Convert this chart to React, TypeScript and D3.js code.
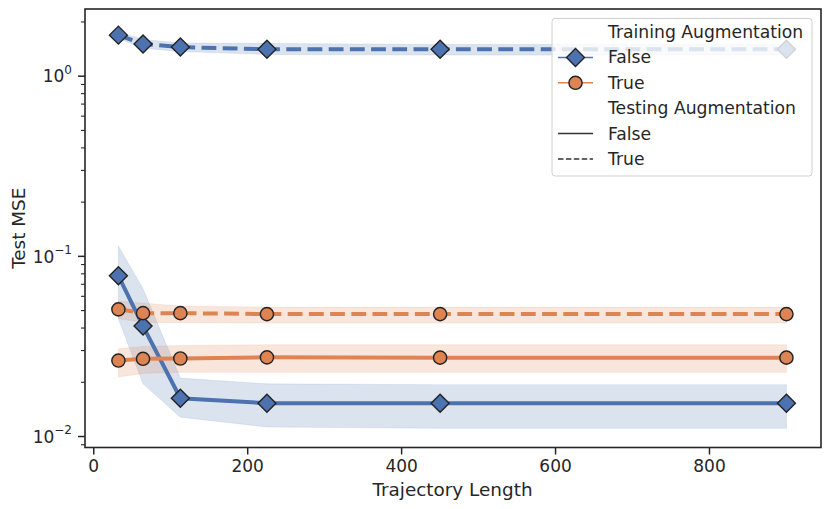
import React, { useEffect, useRef } from 'react';
import * as d3 from 'd3';

// trajectory lengths on the x axis
const trajLengths = [32, 64, 112.5, 225, 450, 900];

// training aug = False, testing aug = False
const ffMean = [0.078, 0.041, 0.0163, 0.0153, 0.0153, 0.0153];
const ffLo = [0.045, 0.0196, 0.0128, 0.0113, 0.0111, 0.0111];
const ffHi = [0.114, 0.066, 0.0211, 0.0196, 0.0194, 0.0194];

// training aug = False, testing aug = True
const ftMean = [1.69, 1.51, 1.45, 1.41, 1.41, 1.41];
const ftLo = [1.62, 1.43, 1.37, 1.32, 1.31, 1.31];
const ftHi = [1.76, 1.6, 1.53, 1.52, 1.5, 1.5];

// training aug = True, testing aug = False
const tfMean = [0.0264, 0.027, 0.0271, 0.0275, 0.0274, 0.0274];
const tfLo = [0.0214, 0.0224, 0.0227, 0.0227, 0.0227, 0.0227];
const tfHi = [0.0307, 0.0316, 0.032, 0.0323, 0.0323, 0.0323];

// training aug = True, testing aug = True
const ttMean = [0.0508, 0.0484, 0.0484, 0.0478, 0.0478, 0.0478];
const ttLo = [0.045, 0.043, 0.0428, 0.0426, 0.0426, 0.0426];
const ttHi = [0.0565, 0.055, 0.053, 0.0523, 0.0523, 0.0523];

const xTicks = [0, 200, 400, 600, 800];
const yMajorExp = [-2, -1, 0];
const legendItems = ['Training Augmentation', 'False', 'True', 'Testing Augmentation', 'False', 'True'];

const BLUE = '#4c72b0';
const ORANGE = '#dd8452';
const INK = '#262626';

const App = () => {
  const ref = useRef<SVGSVGElement>(null);

  useEffect(() => {
    const svg = d3.select(ref.current);
    svg.selectAll('*').remove();

    const left = 85, right = 821, top = 9, bottom = 447.5;
    const pad = (900 - 32) * 0.05;
    const x = d3.scaleLinear().domain([32 - pad, 900 + pad + 1.5]).range([left, right]);
    const y = d3.scaleLog().domain([0.00869, 2.36]).range([bottom, top]);

    const series = [
      { mean: ffMean, lo: ffLo, hi: ffHi, color: BLUE, marker: 'D', dashed: false },
      { mean: ftMean, lo: ftLo, hi: ftHi, color: BLUE, marker: 'D', dashed: true },
      { mean: tfMean, lo: tfLo, hi: tfHi, color: ORANGE, marker: 'o', dashed: false },
      { mean: ttMean, lo: ttLo, hi: ttHi, color: ORANGE, marker: 'o', dashed: true },
    ];

    const plot = svg.append('g');
    const area = d3.area<number>()
      .x((_, i) => x(trajLengths[i]));
    const line = d3.line<number>()
      .x((_, i) => x(trajLengths[i]))
      .y(d => y(d));

    series.forEach(s => {
      plot.append('path')
        .attr('d', area.y0((_, i) => y(s.lo[i])).y1((_, i) => y(s.hi[i]))(s.mean))
        .attr('fill', s.color)
        .attr('fill-opacity', 0.2)
        .attr('stroke', s.color)
        .attr('stroke-opacity', 0.12)
        .attr('stroke-width', 1);
    });
    series.forEach(s => {
      plot.append('path')
        .attr('d', line(s.mean))
        .attr('fill', 'none')
        .attr('stroke', s.color)
        .attr('stroke-width', 4)
        .attr('stroke-dasharray', s.dashed ? '14.8,6.4' : null);
    });
    series.forEach(s => {
      const g = plot.append('g');
      s.mean.forEach((v, i) => {
        const cx = x(trajLengths[i]), cy = y(v);
        if (s.marker === 'D') {
          g.append('path')
            .attr('d', `M${cx},${cy - 9}L${cx + 9},${cy}L${cx},${cy + 9}L${cx - 9},${cy}Z`)
            .attr('fill', s.color).attr('stroke', '#222').attr('stroke-width', 1.4);
        } else {
          g.append('circle')
            .attr('cx', cx).attr('cy', cy).attr('r', 6.6)
            .attr('fill', s.color).attr('stroke', '#222').attr('stroke-width', 1.4);
        }
      });
    });

    // spines
    svg.append('rect')
      .attr('x', left).attr('y', top)
      .attr('width', right - left).attr('height', bottom - top)
      .attr('fill', 'none').attr('stroke', INK).attr('stroke-width', 1.6);

    const font = 'DejaVu Sans, sans-serif';

    // x ticks
    const xa = svg.append('g');
    xTicks.forEach(t => {
      xa.append('line')
        .attr('x1', x(t)).attr('x2', x(t)).attr('y1', bottom).attr('y2', bottom + 7)
        .attr('stroke', INK).attr('stroke-width', 1.5);
      xa.append('text')
        .attr('x', x(t)).attr('y', 472)
        .attr('text-anchor', 'middle')
        .attr('font-family', font).attr('font-size', 17).attr('fill', INK)
        .text(String(t));
    });

    // y ticks (log)
    const ya = svg.append('g');
    const [d0, d1] = y.domain();
    for (let e = -3; e <= 1; e++) {
      for (let m = 1; m <= 9; m++) {
        const v = m * Math.pow(10, e);
        if (v < d0 || v > d1) continue;
        ya.append('line')
          .attr('x1', left).attr('x2', left - (m === 1 ? 7 : 4))
          .attr('y1', y(v)).attr('y2', y(v))
          .attr('stroke', INK).attr('stroke-width', m === 1 ? 1.5 : 1.1);
      }
    }
    yMajorExp.forEach(e => {
      const t = ya.append('text')
        .attr('x', 72).attr('y', y(Math.pow(10, e)) + 6.3)
        .attr('text-anchor', 'end')
        .attr('font-family', font).attr('font-size', 17).attr('fill', INK);
      t.append('tspan').text('10');
      t.append('tspan').attr('font-size', 12).attr('dy', -8.5).text(e < 0 ? `\u2212${-e}` : String(e));
    });

    // axis labels
    svg.append('text')
      .attr('x', 452.5).attr('y', 496)
      .attr('text-anchor', 'middle')
      .attr('font-family', font).attr('font-size', 18.4).attr('fill', INK)
      .text('Trajectory Length');
    svg.append('text')
      .attr('transform', `translate(25,${(top + bottom) / 2}) rotate(-90)`)
      .attr('text-anchor', 'middle')
      .attr('font-family', font).attr('font-size', 18.4).attr('fill', INK)
      .text('Test MSE');

    // legend
    const lg = svg.append('g');
    lg.append('rect')
      .attr('x', 552).attr('y', 18.5).attr('width', 260).attr('height', 157.5)
      .attr('rx', 3)
      .attr('fill', 'white').attr('fill-opacity', 0.8)
      .attr('stroke', '#d0d0d0').attr('stroke-width', 1);
    const rowY = (i: number) => 32 + i * 25.4;
    legendItems.forEach((label, i) => {
      lg.append('text')
        .attr('x', 608).attr('y', rowY(i) + 6)
        .attr('font-family', font).attr('font-size', 17.2).attr('fill', INK)
        .text(label);
    });
    const hx0 = 558, hx1 = 593, hc = (hx0 + hx1) / 2;
    // hue handles
    [[1, BLUE, 'D'], [2, ORANGE, 'o']].forEach(([i, c, mk]) => {
      const cy = rowY(i as number);
      lg.append('line').attr('x1', hx0).attr('x2', hx1).attr('y1', cy).attr('y2', cy)
        .attr('stroke', c as string).attr('stroke-width', 1.5);
      if (mk === 'D') {
        lg.append('path')
          .attr('d', `M${hc},${cy - 9}L${hc + 9},${cy}L${hc},${cy + 9}L${hc - 9},${cy}Z`)
          .attr('fill', c as string).attr('stroke', '#222').attr('stroke-width', 1.4);
      } else {
        lg.append('circle').attr('cx', hc).attr('cy', cy).attr('r', 6.6)
          .attr('fill', c as string).attr('stroke', '#222').attr('stroke-width', 1.4);
      }
    });
    // style handles
    [[4, false], [5, true]].forEach(([i, dashed]) => {
      const cy = rowY(i as number);
      lg.append('line').attr('x1', hx0).attr('x2', hx1).attr('y1', cy).attr('y2', cy)
        .attr('stroke', '#333').attr('stroke-width', 1.5)
        .attr('stroke-dasharray', dashed ? '5.5,2.4' : null);
    });
  }, []);

  return (
    <svg ref={ref} width={830} height={509} style={{ display: 'block', position: 'absolute', left: 0, top: 0 }} />
  );
};

export default App;
